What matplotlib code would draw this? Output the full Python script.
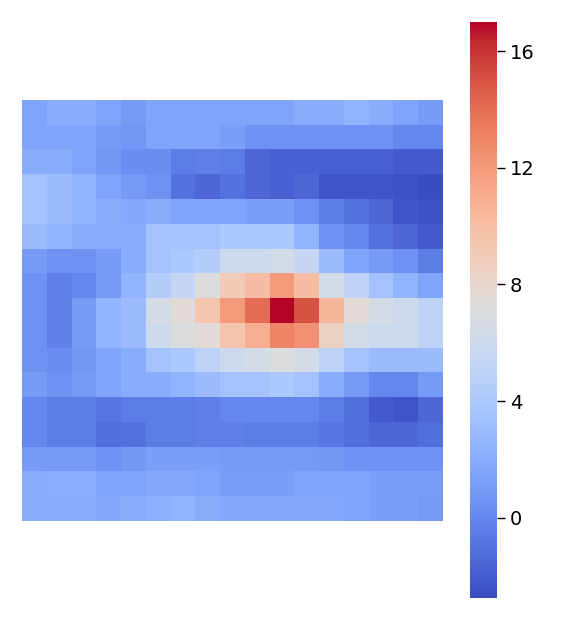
import numpy as np
import matplotlib
matplotlib.use("Agg")
import matplotlib.pyplot as plt

# 17x17 grid, values
rows = [
    [1.5, 2.0, 2.0, 1.5, 1.0, 1.5, 1.5, 1.5, 1.5, 1.5, 1.5, 2.0, 2.0, 2.5, 2.0, 1.5, 1.0],
    [1.5, 1.5, 1.5, 1.0, 0.8, 1.5, 1.5, 1.5, 1.2, 0.5, 0.5, 0.5, 0.5, 0.5, 0.5, 0.0, 0.0],
    [2.0, 2.0, 1.5, 0.8, 0.3, 0.3, -0.5, -0.3, -0.5, -1.5, -1.8, -1.8, -1.8, -1.8, -1.8, -2.0, -2.0],
    [3.5, 3.0, 2.5, 1.5, 1.0, 0.5, -1.0, -1.5, -1.0, -1.5, -1.8, -1.5, -2.3, -2.3, -2.3, -2.5, -2.75],
    [3.5, 3.0, 2.5, 2.0, 1.8, 2.0, 1.5, 1.5, 1.5, 1.2, 1.2, 0.5, -0.5, -1.0, -1.5, -2.3, -2.5],
    [3.0, 2.5, 2.0, 2.0, 2.0, 3.5, 3.5, 3.5, 4.0, 4.0, 4.0, 2.5, 0.5, 0.0, -1.0, -1.5, -2.0],
    [1.0, 0.5, 0.5, 1.0, 2.0, 3.5, 4.0, 4.5, 6.0, 6.0, 6.5, 5.5, 3.0, 1.5, 1.0, 0.5, -0.5],
    [0.5, -0.3, 0.0, 1.0, 2.5, 4.5, 5.5, 7.0, 9.0, 10.0, 12.0, 10.0, 6.5, 5.0, 3.5, 2.5, 1.5],
    [0.5, -0.3, 1.0, 2.5, 3.0, 6.5, 7.5, 9.5, 12.0, 14.0, 17.0, 15.0, 10.5, 7.5, 6.5, 6.0, 5.0],
    [0.5, -0.3, 1.0, 2.5, 3.0, 6.0, 7.0, 7.5, 9.5, 11.0, 13.0, 12.5, 8.5, 6.5, 6.0, 6.0, 5.0],
    [0.5, 0.3, 0.8, 1.5, 2.0, 3.5, 4.0, 5.0, 6.0, 6.5, 7.0, 6.5, 5.0, 3.5, 3.0, 3.0, 3.0],
    [1.0, 0.5, 1.0, 1.5, 2.0, 2.0, 2.5, 3.0, 3.5, 3.5, 4.0, 3.5, 2.0, 1.0, 0.0, 0.0, 1.0],
    [0.0, -0.5, -0.5, -0.8, -0.5, -0.5, -0.5, -0.3, 0.0, 0.0, 0.0, 0.0, -0.5, -1.2, -2.0, -2.3, -1.5],
    [0.0, -0.5, -0.5, -1.2, -1.0, -0.5, -0.5, -0.3, -0.3, -0.5, -0.5, -0.5, -0.8, -1.2, -1.5, -1.5, -1.2],
    [1.0, 1.0, 1.0, 0.5, 0.8, 1.2, 1.2, 1.2, 1.0, 1.0, 1.0, 1.0, 0.8, 0.5, 0.5, 0.5, 0.5],
    [2.0, 2.2, 2.2, 1.5, 1.5, 1.8, 1.8, 1.5, 1.2, 1.2, 1.2, 1.5, 1.5, 1.5, 1.2, 1.2, 1.2],
    [2.0, 2.0, 2.0, 1.8, 2.0, 2.3, 2.5, 2.0, 1.8, 1.8, 1.8, 1.8, 1.8, 1.5, 1.2, 1.2, 1.0],
]
cbar_ticks = [0, 4, 8, 12, 16]

data = np.array(rows)

fig = plt.figure(figsize=(5.62, 6.34), dpi=100)
ax = fig.add_axes([0.039, 0.178, 0.749, 0.664])
cax = fig.add_axes([0.836, 0.057, 0.048, 0.9085])

im = ax.imshow(data, cmap="coolwarm", interpolation="nearest", aspect="auto")
ax.set_xticks([])
ax.set_yticks([])
for s in ax.spines.values():
    s.set_visible(False)

cb = fig.colorbar(im, cax=cax, ticks=cbar_ticks)
cb.outline.set_visible(False)
cb.ax.tick_params(labelsize=14, length=6, width=1)

fig.savefig("out.png", dpi=100)
